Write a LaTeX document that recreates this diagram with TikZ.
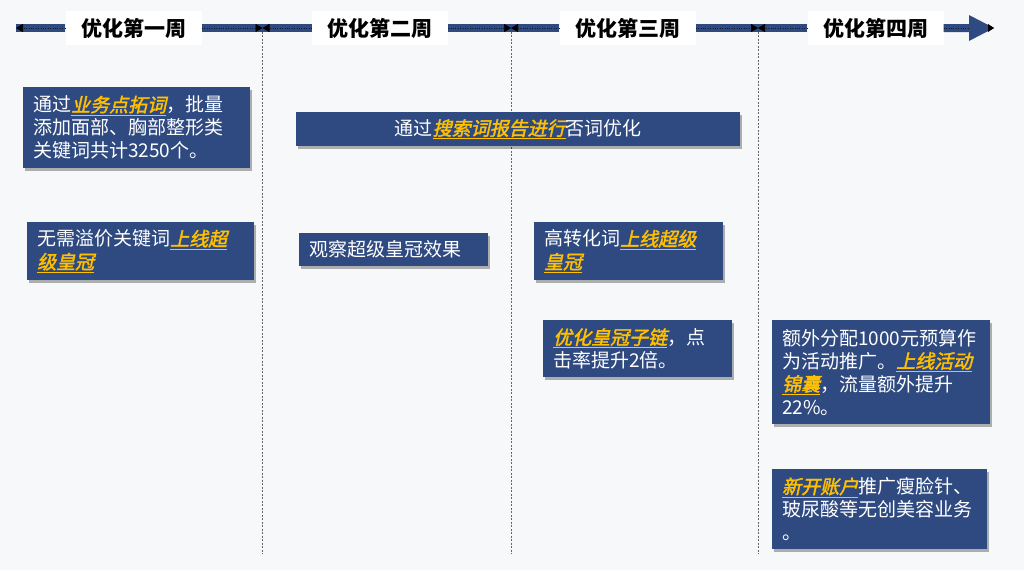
\documentclass[tikz,border=0pt]{standalone}
\usepackage{fontspec}
\newfontfamily\cjk{Noto Sans CJK SC}
\newfontfamily\cjkbi[FakeSlant=0.22,FakeBold=2]{Noto Sans CJK SC}
\usetikzlibrary{arrows.meta,shadows}
\definecolor{bg}{HTML}{F7F8FA}
\definecolor{boxblue}{HTML}{2F4A80}
\definecolor{hly}{HTML}{FFC000}
\newcommand{\hl}[1]{{\cjkbi\color{hly}\underline{#1}}}
\tikzset{
  bx/.style={fill=boxblue, text=white, font={\cjk\fontsize{19pt}{23pt}\selectfont},
    align=left, inner xsep=10pt, inner ysep=0pt, anchor=north west, text width=#1,
    drop shadow={shadow xshift=2pt, shadow yshift=-3pt, opacity=0.3, fill=black}},
  hdr/.style={fill=white, font={\cjk\bfseries\fontsize{21pt}{24pt}\selectfont},
    minimum width=136pt, minimum height=34pt, inner sep=0pt},
  bar/.style={draw=boxblue, line width=8pt},
  dots/.style={draw=black!65!boxblue, line width=.7pt, dash pattern=on .8pt off 1.6pt},
  tipend/.style={-{Triangle[length=7pt,width=8pt,color=black,fill=black]}},
  divider/.style={draw=black!60, line width=.8pt, dash pattern=on 2pt off 1.5pt}
}
\begin{document}
\begin{tikzpicture}[x=1pt,y=-1pt]
\useasboundingbox[fill=bg] (0,0) rectangle (1024,570);
% coordinates
\coordinate (t0) at (16,28);
\coordinate (d1) at (262.5,28);
\coordinate (d2) at (511,28);
\coordinate (d3) at (758,28);
\coordinate (b1) at (262.5,554);
\coordinate (b2) at (511,554);
\coordinate (b3) at (758,554);
\coordinate (e) at (994,28);
% dividers
\draw[divider] (d1) -- (b1);
\draw[divider] (d2) -- (b2);
\draw[divider] (d3) -- (b3);
% headers
\node[hdr] (w1) at (133.5,28) {优化第一周};
\node[hdr] (w2) at (380,28) {优化第二周};
\node[hdr] (w3) at (627.5,28) {优化第三周};
\node[hdr] (w4) at (875.5,28) {优化第四周};
% bars
\foreach \a/\b in {w1.west/t0, w1.east/d1, w2.west/d1, w2.east/d2, w3.west/d2, w3.east/d3, w4.west/d3}{
  \draw[bar] (\a) -- (\b);
  \draw[dots,tipend] (\a) -- (\b);
}
% final big arrow
\fill[boxblue] (w4.east) ++(0,-4) -- (969,24) -- (969,15) -- (e) -- (969,41) -- (969,32) -- ([yshift=-4pt]w4.east) -- cycle;
\draw[dots] (w4.east) -- (969,28);
\fill[black] (e) -- (988,24) -- (988,32) -- cycle;
% boxes
\node[bx=207pt, minimum height=81pt] (A) at (23,87)
  {通过\hl{业务点拓词}，批量\\添加面部、胸部整形类\\关键词共计3250个。};
\node[bx=424pt, minimum height=34pt, align=center] (B) at (296,112)
  {通过\hl{搜索词报告进行}否词优化};
\node[bx=207pt, minimum height=58pt] (C) at (27,222)
  {无需溢价关键词\hl{上线超}\\\hl{级皇冠}};
\node[bx=169pt, minimum height=33pt] (D) at (299,233)
  {观察超级皇冠效果};
\node[bx=169pt, minimum height=58pt] (E) at (534,222)
  {高转化词\hl{上线超级}\\\hl{皇冠}};
\node[bx=169pt, minimum height=57pt] (F) at (543,320)
  {\hl{优化皇冠子链}，点\\击率提升2倍。};
\node[bx=198pt, minimum height=104pt] (G) at (772,320)
  {额外分配1000元预算作\\为活动推广。\hl{上线活动}\\\hl{锦囊}，流量额外提升\\22\%。};
\node[bx=195pt, minimum height=80pt] (H) at (772,469)
  {\hl{新开账户}推广瘦脸针、\\玻尿酸等无创美容业务\\。};
\end{tikzpicture}
\end{document}
